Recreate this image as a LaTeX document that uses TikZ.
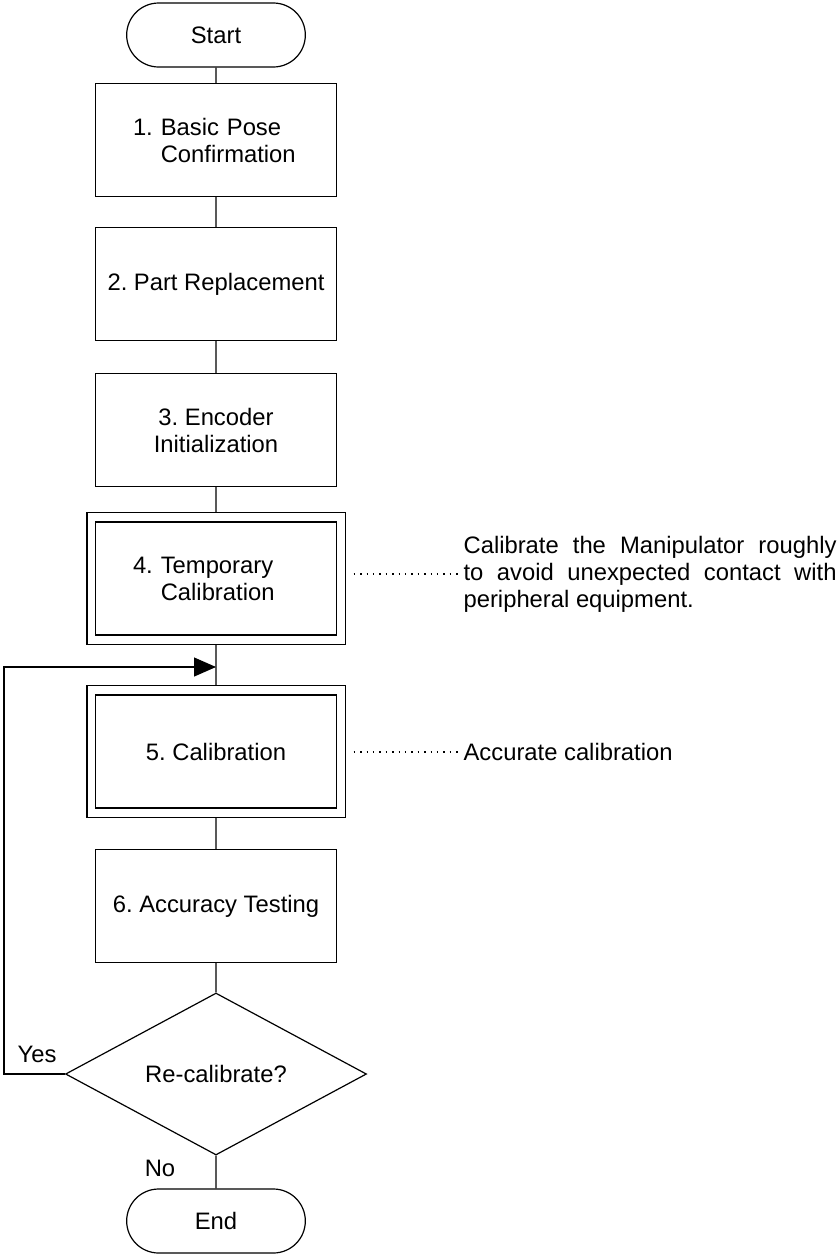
\documentclass[tikz,border=0pt]{standalone}
\usepackage{fontspec}
\setmainfont{Liberation Sans}
\usetikzlibrary{shapes.geometric,shapes.misc,arrows.meta,fit}
\hbadness=10000
\frenchspacing
\begin{document}
\begin{tikzpicture}[x=0.5pt, y=-0.5pt, line width=0.6pt,
  every node/.style={font=\fontsize{11.9}{13.5}\selectfont},
  term/.style={draw,rounded rectangle,minimum width=96pt,minimum height=32pt},
  proc/.style={draw,minimum width=120.5pt,minimum height=56.5pt,align=center},
  hang/.style={align=left,text width=83pt},
  frame/.style={draw,inner xsep=4pt,inner ysep=4.5pt},
  decide/.style={draw,diamond,inner sep=0pt,minimum width=150.5pt,minimum height=81pt},
  note/.style={anchor=west,inner sep=1pt,align=left},
  flow/.style={-{Triangle[length=11pt,width=9.5pt]}},
  dotline/.style={dash pattern=on 0.7pt off 2.5pt,shorten <=4pt}]
\useasboundingbox (0,0) rectangle (838,1254);
\node[term] (start) at (216,35) {Start};
\node[proc,hang] (pose) at (216,140) {1. Basic Pose\\\phantom{1. }Confirmation};
\node[proc] (part) at (216,284) {2. Part Replacement};
\node[proc] (enc) at (216,430) {3. Encoder\\Initialization};
\node[proc,hang] (tmp) at (216,578.5) {4. Temporary\\\phantom{4. }Calibration};
\node[frame,fit=(tmp)] (tmpframe) {};
\node[proc] (cal) at (216,751.5) {5. Calibration};
\node[frame,fit=(cal)] (calframe) {};
\node[proc] (acc) at (216,906) {6. Accuracy Testing};
\node[decide] (check) at (216,1074) {Re-calibrate?};
\node[term] (stop) at (216,1221) {End};
\node (yes) at (37,1054) {Yes};
\node (no) at (160,1168) {No};
\node[note] (tmpnote) at (461,574) {\makebox[186.5pt][s]{Calibrate the Manipulator roughly}\\
  \makebox[186.5pt][s]{to avoid unexpected contact with}\\peripheral equipment.};
\node[note] (calnote) at (461,752) {Accurate calibration};
\coordinate (back) at (4,667);
\coordinate (join) at (216,667);
\draw (start) -- (pose) -- (part) -- (enc) -- (tmpframe) -- (calframe) -- (acc) -- (check) -- (stop);
\draw[flow] (check.west) -| (back) -- (join);
\draw[dotline] (tmpframe.east |- tmpnote.west) -- (tmpnote.west);
\draw[dotline] (calframe.east |- calnote.west) -- (calnote.west);
\end{tikzpicture}
\end{document}
